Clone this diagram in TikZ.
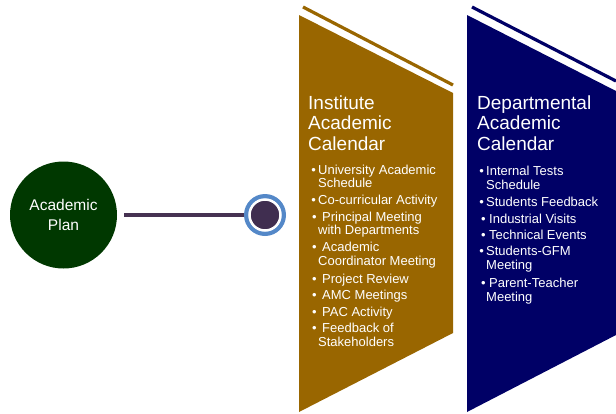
\documentclass[tikz,border=0pt]{standalone}
\usepackage{fontspec}
\setmainfont{Liberation Sans}
\definecolor{gold}{RGB}{153,102,0}
\definecolor{navy}{RGB}{0,0,102}
\definecolor{plangreen}{RGB}{0,56,0}
\definecolor{linepurple}{RGB}{70,50,82}
\definecolor{dotpurple}{RGB}{64,46,80}
\definecolor{ringblue}{RGB}{84,136,200}
\begin{document}
\begin{tikzpicture}[x=1pt,y=-1pt,
  ttl/.style={anchor=base west,inner sep=0pt,text=white,font=\fontsize{19}{20.5}\selectfont},
  itm/.style={anchor=base west,inner sep=0pt,text=white,font=\fontsize{13}{14}\selectfont},
]
\useasboundingbox (0,0) rectangle (616,413);
% panels
\fill[gold] (299,15) -- (453,93) -- (453,333) -- (299,412) -- cycle;
\draw[gold,line width=3.2pt] (303,7) -- (453,85);
\fill[navy] (467,15) -- (616,91) -- (616,335) -- (467,412) -- cycle;
\draw[navy,line width=3.2pt] (472,7) -- (616,81);
% academic plan
\node[circle,fill=plangreen,minimum size=107pt,inner sep=0pt,text=white,align=center,
  font=\fontsize{15.5}{20}\selectfont] (plan) at (63.5,215) {Academic\\Plan};
\coordinate (dotc) at (265,215);
\draw[linepurple,line width=4pt,shorten <=7pt] (plan) -- (dotc);
\fill[ringblue] (dotc) circle (21pt);
\node[circle,fill=dotpurple,draw=white,line width=2.5pt,minimum size=31pt,inner sep=0pt] (dot) at (dotc) {};
% institute calendar
\node[ttl] (i1) at (308,109) {Institute};
\node[ttl] (i2) at (308,129) {Academic};
\node[ttl] (i3) at (308,150) {Calendar};
\node[itm] (g1) at (318,174) {\llap{•\hspace{2.3pt}}University Academic};
\node[itm] (g2) at (318,187) {Schedule};
\node[itm] (g3) at (318,204) {\llap{•\hspace{2.3pt}}Co-curricular Activity};
\node[itm] (g4) at (322,221) {\llap{•\hspace{5.5pt}}Principal Meeting};
\node[itm] (g5) at (318,234) {with Departments};
\node[itm] (g6) at (322,251) {\llap{•\hspace{5.5pt}}Academic};
\node[itm] (g7) at (318,265) {Coordinator Meeting};
\node[itm] (g8) at (322,283) {\llap{•\hspace{5.5pt}}Project Review};
\node[itm] (g9) at (322,299) {\llap{•\hspace{5.5pt}}AMC Meetings};
\node[itm] (g10) at (322,316) {\llap{•\hspace{5.5pt}}PAC Activity};
\node[itm] (g11) at (322,332) {\llap{•\hspace{5.5pt}}Feedback of};
\node[itm] (g12) at (318,346) {Stakeholders};
% departmental calendar
\node[ttl] (d1) at (477,109) {Departmental};
\node[ttl] (d2) at (477,129) {Academic};
\node[ttl] (d3) at (477,150) {Calendar};
\node[itm] (b1) at (486,175) {\llap{•\hspace{2.3pt}}Internal Tests};
\node[itm] (b2) at (486,189) {Schedule};
\node[itm] (b3) at (486,206) {\llap{•\hspace{2.3pt}}Students Feedback};
\node[itm] (b4) at (489,223) {\llap{•\hspace{3.5pt}}Industrial Visits};
\node[itm] (b5) at (489,239) {\llap{•\hspace{3.5pt}}Technical Events};
\node[itm] (b6) at (486,255) {\llap{•\hspace{2.3pt}}Students-GFM};
\node[itm] (b7) at (486,269) {Meeting};
\node[itm] (b8) at (489,287) {\llap{•\hspace{3.5pt}}Parent-Teacher};
\node[itm] (b9) at (486,301) {Meeting};
\end{tikzpicture}
\end{document}
